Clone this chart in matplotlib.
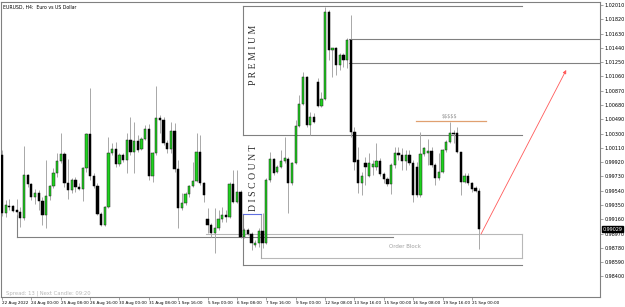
import matplotlib
matplotlib.use('Agg')
import matplotlib.pyplot as plt
import matplotlib.transforms as mtransforms
import numpy as np

# EURUSD H4 candles, 22 Aug 2022 16:00 .. 21 Sep 2022 08:00 (bar index = position)
opens = [1.00014, 0.99243, 0.99336, 0.99336, 0.99283, 0.99256, 0.99177, 0.99749, 0.99629, 0.99456,
         0.99509, 0.99403, 0.99217, 0.99469, 0.99602, 0.99775, 0.99935, 1.00028, 0.99642, 0.99549,
         0.99682, 0.99589, 0.99562, 0.99842, 1.00294, 0.99735, 0.99602, 0.99230, 0.99084, 0.99323,
         1.00041, 1.00094, 0.99895, 1.00014, 0.99948, 1.00214, 1.00054, 1.00201, 1.00094, 1.00227,
         1.00360, 0.99735, 1.00041, 1.00507, 1.00480, 1.00174, 1.00094, 1.00334, 0.99828, 0.99310,
         0.99376, 0.99496, 0.99602, 0.99669, 1.00054, 0.99642, 0.99163, 0.99084, 0.98977, 0.99044,
         0.99163, 0.99217, 0.99190, 0.99629, 0.99389, 0.99522, 0.98924, 0.99017, 0.98964, 0.98818,
         0.98844, 0.99004, 0.98844, 0.99682, 0.99961, 0.99788, 0.99855, 0.99935, 0.99961, 0.99642,
         0.99908, 1.00400, 1.00693, 1.01052, 1.00414, 1.00520, 1.00985, 1.00666, 1.00759, 1.01916,
         1.01411, 1.01438, 1.01212, 1.01345, 1.01278, 1.01544, 1.00320, 0.99948, 0.99642, 0.99908,
         0.99735, 0.99855, 0.99855, 0.99935, 0.99762, 0.99695, 0.99629, 0.99882, 1.00041, 1.00014,
         0.99935, 1.00014, 0.99908, 0.99855, 0.99483, 1.00028, 1.00041, 1.00068, 0.99882, 0.99709,
         0.99788, 1.00081, 1.00187, 1.00307, 1.00307, 1.00054, 0.99655, 0.99735, 0.99642, 0.99576,
         0.99536]
highs = [1.00081, 0.99416, 0.99429, 0.99350, 0.99429, 0.99323, 1.00134, 0.99762, 0.99642, 0.99562,
         0.99549, 0.99456, 0.99948, 0.99616, 0.99842, 1.00041, 1.00307, 1.00054, 0.99961, 0.99709,
         0.99722, 0.99642, 0.99855, 1.00307, 1.00906, 0.99775, 0.99642, 0.99256, 0.99336, 1.00254,
         1.00174, 1.00187, 1.00041, 1.00041, 1.00307, 1.00520, 1.00453, 1.00280, 1.00254, 1.00414,
         1.00427, 1.00054, 1.00932, 1.00547, 1.00520, 1.00214, 1.00453, 1.00440, 0.99948, 0.99509,
         0.99522, 0.99616, 0.99921, 1.00307, 1.00280, 0.99655, 0.99310, 0.99110, 0.99310, 0.99283,
         0.99323, 0.99283, 0.99655, 0.99815, 0.99815, 0.99549, 0.99044, 0.99044, 0.98990, 0.98884,
         0.99044, 0.99243, 0.99709, 1.00054, 0.99975, 0.99882, 1.00081, 1.00254, 0.99988, 0.99921,
         1.00480, 1.00813, 1.01118, 1.01065, 1.00586, 1.00573, 1.01039, 1.00852, 1.01983, 1.01943,
         1.01438, 1.01451, 1.01371, 1.01371, 1.01571, 1.01877, 1.00387, 1.00121, 0.99788, 0.99988,
         1.00041, 0.99948, 1.00174, 0.99975, 0.99788, 0.99722, 0.99908, 1.00121, 1.00121, 1.00108,
         1.00081, 1.00081, 0.99948, 0.99921, 1.00320, 1.00121, 1.00227, 1.00121, 0.99908, 1.00041,
         1.00094, 1.00214, 1.00453, 1.00347, 1.00387, 1.00054, 0.99775, 0.99775, 0.99655, 0.99602,
         0.99576]
lows = [0.99203, 0.99190, 0.99283, 0.99256, 0.99217, 0.99057, 0.99150, 0.99589, 0.99416, 0.99363,
        0.99283, 0.99084, 0.99044, 0.99416, 0.99576, 0.99722, 0.99908, 0.99589, 0.99429, 0.99509,
        0.99522, 0.99549, 0.99403, 0.99788, 0.99682, 0.99576, 0.99217, 0.99070, 0.99070, 0.99310,
        1.00014, 0.99855, 0.99868, 0.99921, 0.99775, 1.00014, 0.99775, 1.00054, 1.00081, 1.00214,
        0.99682, 0.99655, 1.00014, 1.00307, 1.00147, 1.00041, 1.00041, 0.99788, 0.99044, 0.99283,
        0.99350, 0.99456, 0.99589, 0.99655, 0.99616, 0.99389, 0.98977, 0.98924, 0.98711, 0.99017,
        0.99123, 0.99123, 0.99177, 0.99376, 0.99376, 0.98911, 0.98911, 0.98951, 0.98751, 0.98791,
        0.98791, 0.98778, 0.98831, 0.99655, 0.99749, 0.99775, 0.99842, 0.99908, 0.99243, 0.99616,
        0.99895, 1.00387, 1.00680, 1.00387, 1.00280, 1.00440, 1.00653, 1.00653, 1.00746, 1.01278,
        1.01052, 1.01079, 1.01145, 1.01185, 1.01172, 1.00254, 0.99815, 0.99509, 0.99483, 0.99616,
        0.99722, 0.99749, 0.99815, 0.99735, 0.99642, 0.99602, 0.99496, 0.99842, 0.99948, 0.99815,
        0.99815, 0.99882, 0.99389, 0.99456, 0.99456, 1.00001, 0.99882, 0.99855, 0.99616, 0.99682,
        0.99775, 1.00054, 1.00174, 1.00174, 1.00041, 0.99483, 0.99642, 0.99616, 0.99522, 0.99522,
        0.98764]
closes = [0.99243, 0.99350, 0.99323, 0.99270, 0.99256, 0.99177, 0.99749, 0.99629, 0.99456, 0.99509,
          0.99403, 0.99217, 0.99469, 0.99602, 0.99775, 0.99935, 1.00028, 0.99642, 0.99549, 0.99682,
          0.99589, 0.99562, 0.99842, 1.00294, 0.99735, 0.99602, 0.99230, 0.99084, 0.99323, 1.00041,
          1.00094, 0.99895, 1.00014, 0.99948, 1.00214, 1.00054, 1.00201, 1.00081, 1.00227, 1.00360,
          0.99735, 1.00041, 1.00507, 1.00480, 1.00174, 1.00094, 1.00334, 0.99828, 0.99310, 0.99376,
          0.99496, 0.99602, 0.99669, 1.00054, 0.99642, 0.99483, 0.99084, 0.98977, 0.99044, 0.99163,
          0.99217, 0.99190, 0.99629, 0.99389, 0.99522, 0.98924, 0.99017, 0.98964, 0.98844, 0.98844,
          0.99004, 0.98844, 0.99682, 0.99961, 0.99775, 0.99855, 0.99935, 0.99975, 0.99642, 0.99908,
          1.00400, 1.00693, 1.01052, 1.00414, 1.00520, 1.00453, 1.00666, 1.00759, 1.01916, 1.01411,
          1.01438, 1.01212, 1.01345, 1.01278, 1.01544, 1.00320, 0.99921, 0.99642, 0.99735, 0.99855,
          0.99908, 0.99895, 0.99935, 0.99762, 0.99695, 0.99629, 0.99882, 1.00041, 1.00014, 0.99935,
          1.00014, 0.99908, 0.99483, 0.99483, 1.00028, 1.00108, 1.00068, 0.99882, 0.99709, 0.99788,
          1.00081, 1.00187, 1.00307, 1.00294, 1.00054, 0.99655, 0.99735, 0.99642, 0.99562, 0.99536,
          0.99029]

xtick_pos = list(range(0, 129, 8))
xtick_labels = ['22 Aug 2022', '24 Aug 00:00', '25 Aug 08:00', '26 Aug 16:00', '30 Aug 00:00',
                '31 Aug 08:00', '1 Sep 16:00', '5 Sep 00:00', '6 Sep 08:00', '7 Sep 16:00',
                '9 Sep 00:00', '12 Sep 08:00', '13 Sep 16:00', '15 Sep 00:00', '16 Sep 08:00',
                '19 Sep 16:00', '21 Sep 00:00']
ytick_vals = [1.02010, 1.01820, 1.01630, 1.01440, 1.01250, 1.01060, 1.00870, 1.00680, 1.00490,
              1.00300, 1.00110, 0.99920, 0.99730, 0.99540, 0.99350, 0.99160, 0.98970, 0.98780,
              0.98590, 0.98400]
last_price = 0.99029

# drawn objects (bar index, price)
zone_x = [65.7, 141.7]
zone_top, zone_mid, zone_bottom = 1.01996, 1.00280, 0.98552
swing_x = [4, 106.5]
swing_level, swing_from = 0.98930, 0.99217
ob_x = [70.6, 141.7]
ob_top, ob_bottom, ob_top_start = 0.98964, 0.98645, 55.5
blue_level = 0.99230
premium_start = 94.5
premium_levels = [1.01557, 1.01238]
liq_x = [112.8, 131.9]
liq_level = 1.00467
arrow_from = (130.5, 0.98964)
arrow_to = (153.7, 1.01145)

o = np.array(opens)
h = np.array(highs)
l = np.array(lows)
c = np.array(closes)
idx = np.arange(len(o))
up = c >= o

fig = plt.figure(figsize=(6.25, 3.07), dpi=100)
ax = fig.add_axes([1 / 625, 10 / 307, 599 / 625, 295 / 307])
ax.set_xlim(-0.27, 162.9)
ax.set_ylim(0.98126, 1.02049)

grey = '#808080'
# structure lines
ax.plot(zone_x, [zone_top] * 2, color=grey, lw=0.8)
ax.plot(zone_x, [zone_mid] * 2, color=grey, lw=0.8)
ax.plot(zone_x, [zone_bottom] * 2, color=grey, lw=0.8)
ax.plot([zone_x[0]] * 2, [zone_top, zone_mid], color=grey, lw=0.8)
ax.plot([zone_x[0]] * 2, [blue_level, zone_bottom], color=grey, lw=0.8)
ax.plot(swing_x, [swing_level] * 2, color=grey, lw=0.8)
ax.plot([swing_x[0]] * 2, [swing_from, swing_level], color=grey, lw=0.8)
ax.plot([ob_top_start, ob_x[1]], [ob_top] * 2, color='#b8b8b8', lw=0.8)
ax.plot(ob_x, [ob_bottom] * 2, color='#b8b8b8', lw=0.8)
ax.plot([ob_x[1]] * 2, [ob_top, ob_bottom], color='#b8b8b8', lw=0.8)
ax.plot([ob_x[0]] * 2, [blue_level, ob_bottom], color='#a8a8a8', lw=0.8)
ax.plot([zone_x[0], ob_x[0]], [blue_level] * 2, color='#6070e0', lw=0.8)
for lv in premium_levels:
    ax.plot([premium_start, 170], [lv, lv], color=grey, lw=0.8)
ax.plot(liq_x, [liq_level] * 2, color='#e0a070', lw=0.9)

# candles
ax.vlines(idx, l, h, color='#a8a8a8', lw=0.7, zorder=3)
body = np.maximum(np.abs(c - o), 0.00010)
bottom = np.minimum(o, c)
ax.bar(idx[up], body[up], bottom=bottom[up], width=0.62, color='#1ed21e',
       edgecolor='#202020', linewidth=0.35, zorder=4)
ax.bar(idx[~up], body[~up], bottom=bottom[~up], width=0.62, color='black',
       edgecolor='black', linewidth=0.35, zorder=4)

# texts
ax.text(68.4, 1.01345, 'P R E M I U M', rotation=90, ha='center', va='center',
        fontsize=7, family='Liberation Serif', color='#303030')
ax.text(68.4, 0.99709, 'D I S C O U N T', rotation=90, ha='center', va='center',
        fontsize=7, family='Liberation Serif', color='#303030')
ax.text(122, liq_level + 0.0003, r'\$\$\$\$\$', ha='center', va='bottom', fontsize=3.6,
        color='#909090')
ax.text(109.8, 0.98791, 'Order Block', ha='center', va='center', fontsize=4, color='#a0a0a0')
ax.annotate('', xy=arrow_to, xytext=arrow_from,
            arrowprops=dict(arrowstyle='-|>', color='#ff5a5a', lw=0.6,
                            mutation_scale=5, shrinkA=0, shrinkB=0))
ax.text(0.004, 0.99, 'EURUSD, H4:  Euro vs US Dollar', transform=ax.transAxes,
        ha='left', va='top', fontsize=3.3, color='black')
ax.text(0.009, 0.014, 'Spread: 13 | Next Candle: 09:20', transform=ax.transAxes,
        ha='left', va='center', fontsize=3.8, color='#b8b8b8')

# axes styling
for s in ax.spines.values():
    s.set_color(grey)
    s.set_linewidth(0.8)
ax.yaxis.tick_right()
ax.set_yticks(ytick_vals)
ax.set_yticklabels(['%.5f' % v for v in ytick_vals])
ax.set_xticks(xtick_pos)
ax.set_xticklabels(xtick_labels, ha='left')
ax.tick_params(axis='y', direction='out', length=2, width=0.5, color=grey,
               labelsize=3.5, pad=1)
ax.tick_params(axis='x', direction='out', length=2, width=0.5, color=grey,
               labelsize=3.0, pad=1)

trans = mtransforms.blended_transform_factory(ax.transAxes, ax.transData)
ax.text(1.004, last_price, '%.5f' % last_price, transform=trans, ha='left', va='center',
        fontsize=3.5, color='white',
        bbox=dict(boxstyle='square,pad=0.15', fc='black', ec='black'))

fig.savefig('out.png', dpi=100)
